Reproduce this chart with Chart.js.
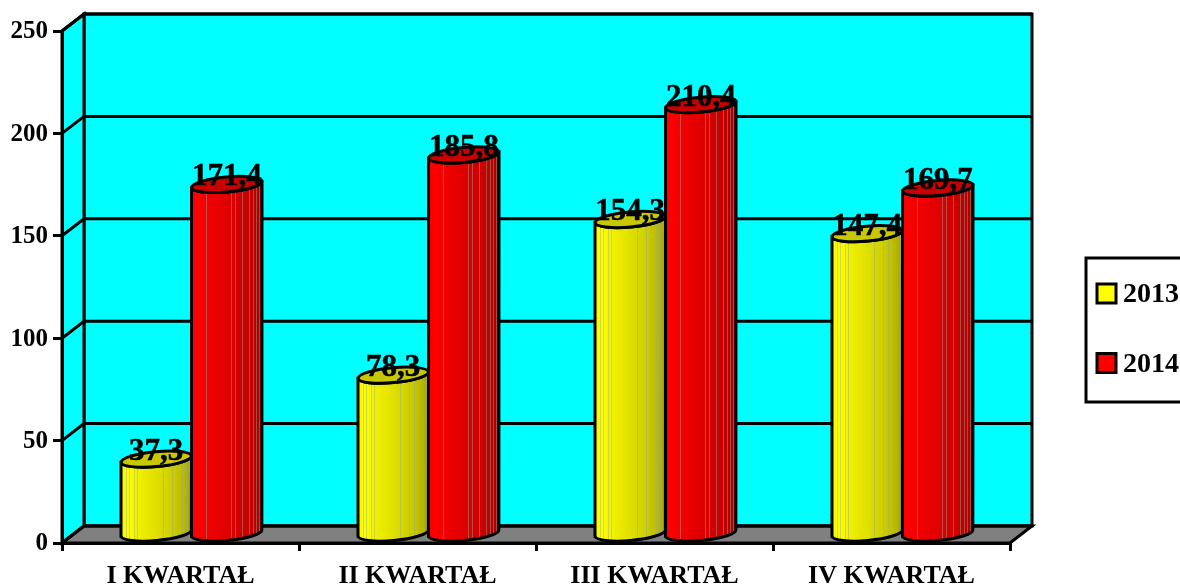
<!DOCTYPE html>
<html>
<head>
<meta charset="utf-8">
<title>Kwartały 2013-2014</title>
<script src="https://cdn.jsdelivr.net/npm/chart.js@4/dist/chart.umd.js"></script>
<style>
    html, body { margin: 0; padding: 0; background: #fff; overflow: hidden; }
    canvas { display: block; }
</style>
</head>
<body>
<canvas id="kwartalyChart" width="1180" height="585"></canvas>
<script>
const categories = ["I KWARTAŁ", "II KWARTAŁ", "III KWARTAŁ", "IV KWARTAŁ"];
const values2013 = [37.3, 78.3, 154.3, 147.4];
const values2014 = [171.4, 185.8, 210.4, 169.7];
const yTicks = [0, 50, 100, 150, 200, 250];

const fontFamily = "'Liberation Serif', 'Times New Roman', serif";
const depthX = 22;
const depthY = 17;
const tilt = -0.09; // the cylinder ellipses rise slightly to the right

// colour stops across a cylinder, left to right
const yellowStops = [[0, "#f4f400"], [0.08, "#ffff00"], [0.25, "#f0f000"], [0.5, "#e0e000"], [0.72, "#cfcf00"], [0.88, "#bcbc00"], [1, "#a4a400"]];
const redStops = [[0, "#f40000"], [0.08, "#ff0000"], [0.25, "#f00000"], [0.5, "#e00000"], [0.72, "#cf0000"], [0.88, "#bc0000"], [1, "#a40000"]];
const yellowLines = [0.07, 0.12, 0.18, 0.23, 0.6, 0.73, 0.79, 0.87, 0.92, 0.97];
const redLines = [0.2, 0.56, 0.62, 0.72, 0.81, 0.87, 0.91, 0.96];

function wallPath(ctx, points, fill) {
    ctx.beginPath();
    points.forEach((p, i) => i ? ctx.lineTo(p[0], p[1]) : ctx.moveTo(p[0], p[1]));
    ctx.closePath();
    ctx.fillStyle = fill;
    ctx.fill();
    ctx.stroke();
}

// Back wall, side wall and floor
const wallsPlugin = {
    id: "walls",
    beforeDraw(chart) {
        const { ctx, chartArea: a, scales: { y } } = chart;
        ctx.save();
        ctx.lineWidth = 3;
        ctx.strokeStyle = "#000";
        wallPath(ctx, [[a.left + depthX, a.top - depthY], [a.right + depthX, a.top - depthY],
            [a.right + depthX, a.bottom - depthY], [a.left + depthX, a.bottom - depthY]], "#00ffff");
        wallPath(ctx, [[a.left, a.top], [a.left + depthX, a.top - depthY],
            [a.left + depthX, a.bottom - depthY], [a.left, a.bottom]], "#00ffff");
        wallPath(ctx, [[a.left, a.bottom], [a.left + depthX, a.bottom - depthY],
            [a.right + depthX, a.bottom - depthY], [a.right, a.bottom]], "#808080");
        yTicks.forEach(t => {
            const py = y.getPixelForValue(t);
            ctx.beginPath();
            ctx.moveTo(a.left, py);
            ctx.lineTo(a.left + depthX, py - depthY);
            ctx.lineTo(a.right + depthX, py - depthY);
            ctx.stroke();
        });
        ctx.restore();
    }
};

function drawCylinder(ctx, bar, stops, lines, topColor) {
    const rx = bar.width / 2;
    const ry = depthY / 2 - 1;
    const cx = bar.x + depthX / 2;
    const topY = bar.y - depthY / 2 + 1;
    const baseY = bar.base - depthY / 2;
    const dy = Math.sin(tilt) * rx;

    const grad = ctx.createLinearGradient(cx - rx, 0, cx + rx, 0);
    stops.forEach(s => grad.addColorStop(s[0], s[1]));

    const body = new Path2D();
    body.moveTo(cx - rx, topY - dy);
    body.lineTo(cx - rx, baseY - dy);
    body.ellipse(cx, baseY, rx, ry, tilt, Math.PI, 0, true);
    body.lineTo(cx + rx, topY + dy);
    body.ellipse(cx, topY, rx, ry, tilt, 0, Math.PI, false);
    body.closePath();

    ctx.fillStyle = grad;
    ctx.fill(body);

    // faint vertical bands of the shading
    ctx.save();
    ctx.clip(body);
    ctx.lineWidth = 1;
    ctx.strokeStyle = "rgba(150,170,150,0.45)";
    lines.forEach(f => {
        const lx = Math.round(cx - rx + f * bar.width) + 0.5;
        ctx.beginPath();
        ctx.moveTo(lx, topY - ry - Math.abs(dy));
        ctx.lineTo(lx, baseY + ry + Math.abs(dy));
        ctx.stroke();
    });
    ctx.restore();

    ctx.stroke(body);

    ctx.beginPath();
    ctx.ellipse(cx, topY, rx, ry, tilt, 0, Math.PI * 2);
    ctx.fillStyle = topColor;
    ctx.fill();
    ctx.stroke();
}

// Cylinders and their value labels, yellow first so red overlaps it
const cylindersPlugin = {
    id: "cylinders",
    beforeDatasetsDraw(chart) {
        const ctx = chart.ctx;
        ctx.save();
        ctx.lineWidth = 3;
        ctx.strokeStyle = "#000";
        chart.data.datasets.forEach((ds, di) => {
            const stops = di === 0 ? yellowStops : redStops;
            const lines = di === 0 ? yellowLines : redLines;
            const topColor = di === 0 ? "#c8c800" : "#c80000";
            chart.getDatasetMeta(di).data.forEach((bar, i) => {
                drawCylinder(ctx, bar, stops, lines, topColor);
                ctx.save();
                ctx.fillStyle = "#000";
                ctx.strokeStyle = "#000";
                ctx.lineWidth = 0.5;
                ctx.font = "bold 31px " + fontFamily;
                ctx.textAlign = "center";
                ctx.textBaseline = "alphabetic";
                const text = ds.data[i].toFixed(1).replace(".", ",");
                const ty = bar.y - depthY / 2 + 2;
                ctx.fillText(text, bar.x + depthX / 2, ty);
                ctx.strokeText(text, bar.x + depthX / 2, ty);
                ctx.restore();
            });
        });
        ctx.restore();
        return false;
    }
};

const legendBoxPlugin = {
    id: "legendBox",
    afterDraw(chart) {
        const ctx = chart.ctx;
        ctx.save();
        ctx.strokeStyle = "#000";
        ctx.lineWidth = 3;
        ctx.strokeRect(1086, 258, 100, 144);
        ctx.font = "bold 28px " + fontFamily;
        ctx.textBaseline = "middle";
        ctx.textAlign = "left";
        chart.data.datasets.forEach((ds, i) => {
            const top = 284 + i * 69.5;
            ctx.fillStyle = ds.backgroundColor;
            ctx.fillRect(1097, top, 19, 19);
            ctx.strokeRect(1097, top, 19, 19);
            ctx.fillStyle = "#000";
            ctx.fillText(ds.label, 1123, top + 11);
        });
        ctx.restore();
    }
};

new Chart(document.getElementById("kwartalyChart"), {
    type: "bar",
    data: {
        labels: categories,
        datasets: [
            { label: "2013", data: values2013, backgroundColor: "#ffff00" },
            { label: "2014", data: values2014, backgroundColor: "#ff0000" }
        ]
    },
    options: {
        responsive: false,
        animation: false,
        categoryPercentage: 0.595,
        barPercentage: 1,
        layout: { padding: { top: 31, right: 170, left: 0, bottom: 0 } },
        plugins: { legend: { display: false }, tooltip: { enabled: false } },
        scales: {
            x: {
                afterFit: s => { s.height = 42; },
                grid: { offset: true, drawOnChartArea: false, color: "#000", lineWidth: 3, tickLength: 8 },
                border: { display: true, color: "#000", width: 3 },
                ticks: { color: "#000", padding: 10, maxRotation: 0, font: { family: fontFamily, size: 26, weight: "bold" } }
            },
            y: {
                min: 0,
                max: 250,
                afterFit: s => { s.width = 62; },
                afterBuildTicks: s => { s.ticks = yTicks.map(v => ({ value: v })); },
                grid: { drawOnChartArea: false, color: "#000", lineWidth: 3, tickLength: 9 },
                border: { display: true, color: "#000", width: 3 },
                ticks: { color: "#000", padding: 5, labelOffset: 1, font: { family: fontFamily, size: 25, weight: "bold" } }
            }
        }
    },
    plugins: [wallsPlugin, cylindersPlugin, legendBoxPlugin]
});
</script>
</body>
</html>
